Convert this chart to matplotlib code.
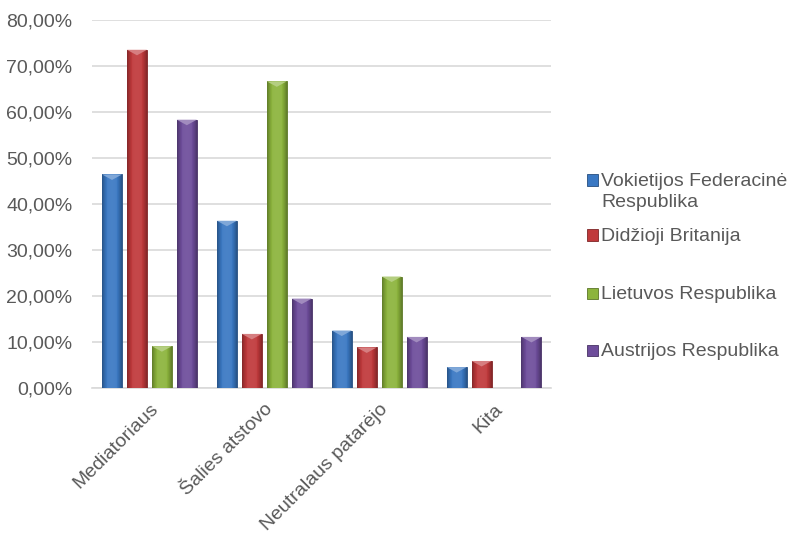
import numpy as np
import matplotlib.pyplot as plt
from matplotlib.colors import to_rgb
from matplotlib.patches import Polygon, Rectangle
from matplotlib.ticker import FuncFormatter

plt.rcParams['font.family'] = ['Liberation Sans', 'DejaVu Sans']

# Duomenys
kategorijos = ['Mediatoriaus', 'Šalies atstovo', 'Neutralaus patarėjo', 'Kita']
serijos = ['Vokietijos Federacinė\nRespublika', 'Didžioji Britanija',
           'Lietuvos Respublika', 'Austrijos Respublika']
vokietija = [0.4643, 0.3636, 0.1250, 0.0455]
britanija = [0.7353, 0.1176, 0.0882, 0.0588]
lietuva = [0.0909, 0.6667, 0.2424, 0.0]
austrija = [0.5833, 0.1944, 0.1111, 0.1111]
reiksmes = [vokietija, britanija, lietuva, austrija]
spalvos = ['#3A78C3', '#C0393B', '#8CB43C', '#6E4D9B']

fig = plt.figure(figsize=(7.95, 5.34), dpi=100)
ax = fig.add_axes([0.1157, 0.2734, 0.578, 0.6891])

x = np.arange(len(kategorijos))
zingsnis = 0.217
plotis = 0.174


# šviesesnė (k>0) arba tamsesnė (k<0) spalva
def atspalvis(c, k):
    r = np.array(to_rgb(c))
    if k > 0:
        return tuple(r + (1 - r) * k)
    return tuple(r * (1 + k))


for i, (vals, c) in enumerate(zip(reiksmes, spalvos)):
    bars = ax.bar(x + (i - 1.5) * zingsnis, vals, plotis, color=c,
                  edgecolor=atspalvis(c, -0.35), linewidth=0.6, zorder=3)
    # gradientas per stulpelį (iškilimo efektas)
    prof = 1 - np.linspace(-1, 1, 32) ** 2
    img = np.array([[atspalvis(c, -0.3 + 0.4 * p) if p < 0.75
                     else atspalvis(c, 0.05 + 0.1 * (p - 0.75)) for p in prof]])
    for b in bars:
        h = b.get_height()
        if h <= 0:
            continue
        bx, bw = b.get_x(), b.get_width()
        im = ax.imshow(img, extent=(bx, bx + bw, 0, h), aspect='auto',
                       zorder=3.5, interpolation='bilinear')
        im.set_clip_path(b)
        tri_h = min(0.012, h * 0.5)
        ax.add_patch(Polygon([(bx, h), (bx + bw, h), (bx + bw / 2, h - tri_h)],
                             closed=True, facecolor=atspalvis(c, 0.35),
                             edgecolor='none', zorder=4))

ax.set_xlim(-0.5, len(kategorijos) - 0.5)
ax.set_ylim(0, 0.8)
ax.set_yticks(np.arange(0, 0.81, 0.1))
ax.yaxis.set_major_formatter(FuncFormatter(lambda v, p: f'{v * 100:.2f}%'.replace('.', ',')))
ax.grid(axis='y', color='#D9D9D9', linewidth=1.2, zorder=0)
ax.set_axisbelow(True)
for s in ['top', 'right', 'left']:
    ax.spines[s].set_visible(False)
ax.spines['bottom'].set_color('#D9D9D9')
ax.spines['bottom'].set_linewidth(1.2)
ax.tick_params(axis='both', length=0, labelsize=14, labelcolor='#595959')
ax.tick_params(axis='y', pad=14)
ax.tick_params(axis='x', pad=9)
ax.set_xticks(x)
ax.set_xticklabels(kategorijos, rotation=45, ha='right', rotation_mode='anchor')

# Legenda (rankinis išdėstymas kaip Excel)
W, H = 795, 534
leg_y = [180, 235, 293, 350]
for txt, c, yy in zip(serijos, spalvos, leg_y):
    fig.patches.append(Rectangle((587 / W, (H - yy - 5.5) / H), 11 / W, 11 / H,
                                 transform=fig.transFigure, facecolor=c,
                                 edgecolor=atspalvis(c, -0.35), linewidth=0.6))
    fig.text(601 / W, (H - yy + 7) / H, txt, fontsize=14, color='#595959',
             ha='left', va='top', linespacing=1.3)

fig.savefig('out.png', dpi=100)
